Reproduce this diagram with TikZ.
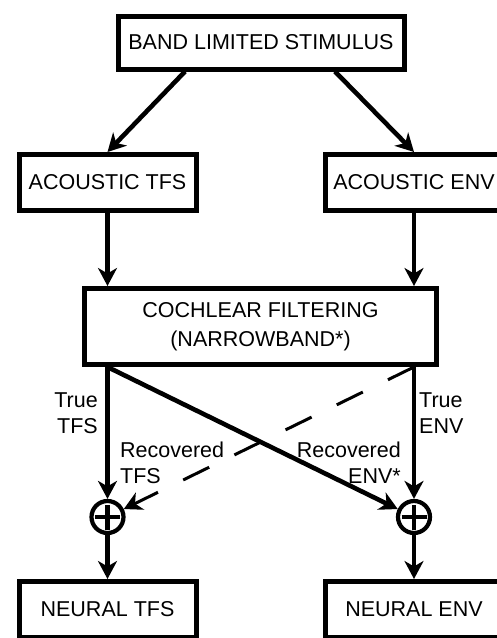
\documentclass[tikz,border=0pt]{standalone}
\usepackage{fontspec}
\setmainfont{Liberation Sans}
\usetikzlibrary{arrows.meta,calc}
\tikzset{
  box/.style={draw, line width=5pt, inner sep=0pt, fill=white},
  arr/.style={line width=4.6pt, -{Stealth[length=18pt,width=19pt,inset=5.5pt]}},
  darr/.style={line width=3pt, dash pattern=on 29pt off 28pt, -{Stealth[length=18pt,width=19pt,inset=5.5pt]}},
  lbl/.style={inner sep=0pt, font=\fontsize{21.5}{26}\selectfont},
  plusnode/.style={circle, draw, line width=4.2pt, minimum size=32pt, inner sep=0pt,
    path picture={
      \draw[line width=4.2pt] ([xshift=-12.5pt]path picture bounding box.center) -- ([xshift=12.5pt]path picture bounding box.center);
      \draw[line width=4.2pt] ([yshift=-12.5pt]path picture bounding box.center) -- ([yshift=12.5pt]path picture bounding box.center);
    }},
}
\begin{document}
\begin{tikzpicture}[x=1pt,y=-1pt, font=\fontsize{21.5}{29}\selectfont]
\useasboundingbox (0,0) rectangle (497,638);
\clip (0,0) rectangle (497,638);
\node[box, minimum width=286pt, minimum height=53pt] (top) at (261,42.5) {BAND LIMITED STIMULUS};
\node[box, minimum width=177pt, minimum height=56pt] (atfs) at (107.5,182.5) {ACOUSTIC TFS};
\node[box, minimum width=177pt, minimum height=56pt] (aenv) at (414,182.5) {ACOUSTIC ENV};
\node[box, minimum width=352pt, minimum height=76pt, align=center] (coch) at (260.5,326.5) {COCHLEAR FILTERING\\(NARROWBAND*)};
\node[plusnode] (ptfs) at (107.5,517) {};
\node[plusnode] (penv) at (414,517) {};
\node[box, minimum width=177pt, minimum height=56pt] (ntfs) at (107.5,609.5) {NEURAL TFS};
\node[box, minimum width=177pt, minimum height=56pt] (nenv) at (414,609.5) {NEURAL ENV};

\draw[arr] ($(top.south)+(-76,0)$) -- (atfs.north);
\draw[arr] ($(top.south)+(74,0)$) -- (aenv.north);
\draw[arr] (atfs.south) -- (coch.north -| atfs);
\draw[arr] (aenv.south) -- (coch.north -| aenv);
\draw[arr] (coch.south -| atfs) -- (ptfs);
\draw[arr] (coch.south -| aenv) -- (penv);
\draw[arr] (coch.south -| atfs) -- (penv);
\draw[darr] (coch.south -| aenv) -- (ptfs);
\draw[arr] (ptfs) -- (ntfs.north);
\draw[arr] (penv) -- (nenv.north);

\node[lbl, anchor=north east, align=right] (ltt) at (98,393) {True\\TFS};
\node[lbl, anchor=north west, align=left] (lte) at (419,393) {True\\ENV};
\node[lbl, anchor=north west, align=left] (lrt) at (120,442) {Recovered\\TFS};
\node[lbl, anchor=north east, align=right] (lre) at (401,442) {Recovered\\ENV*};
\end{tikzpicture}
\end{document}
